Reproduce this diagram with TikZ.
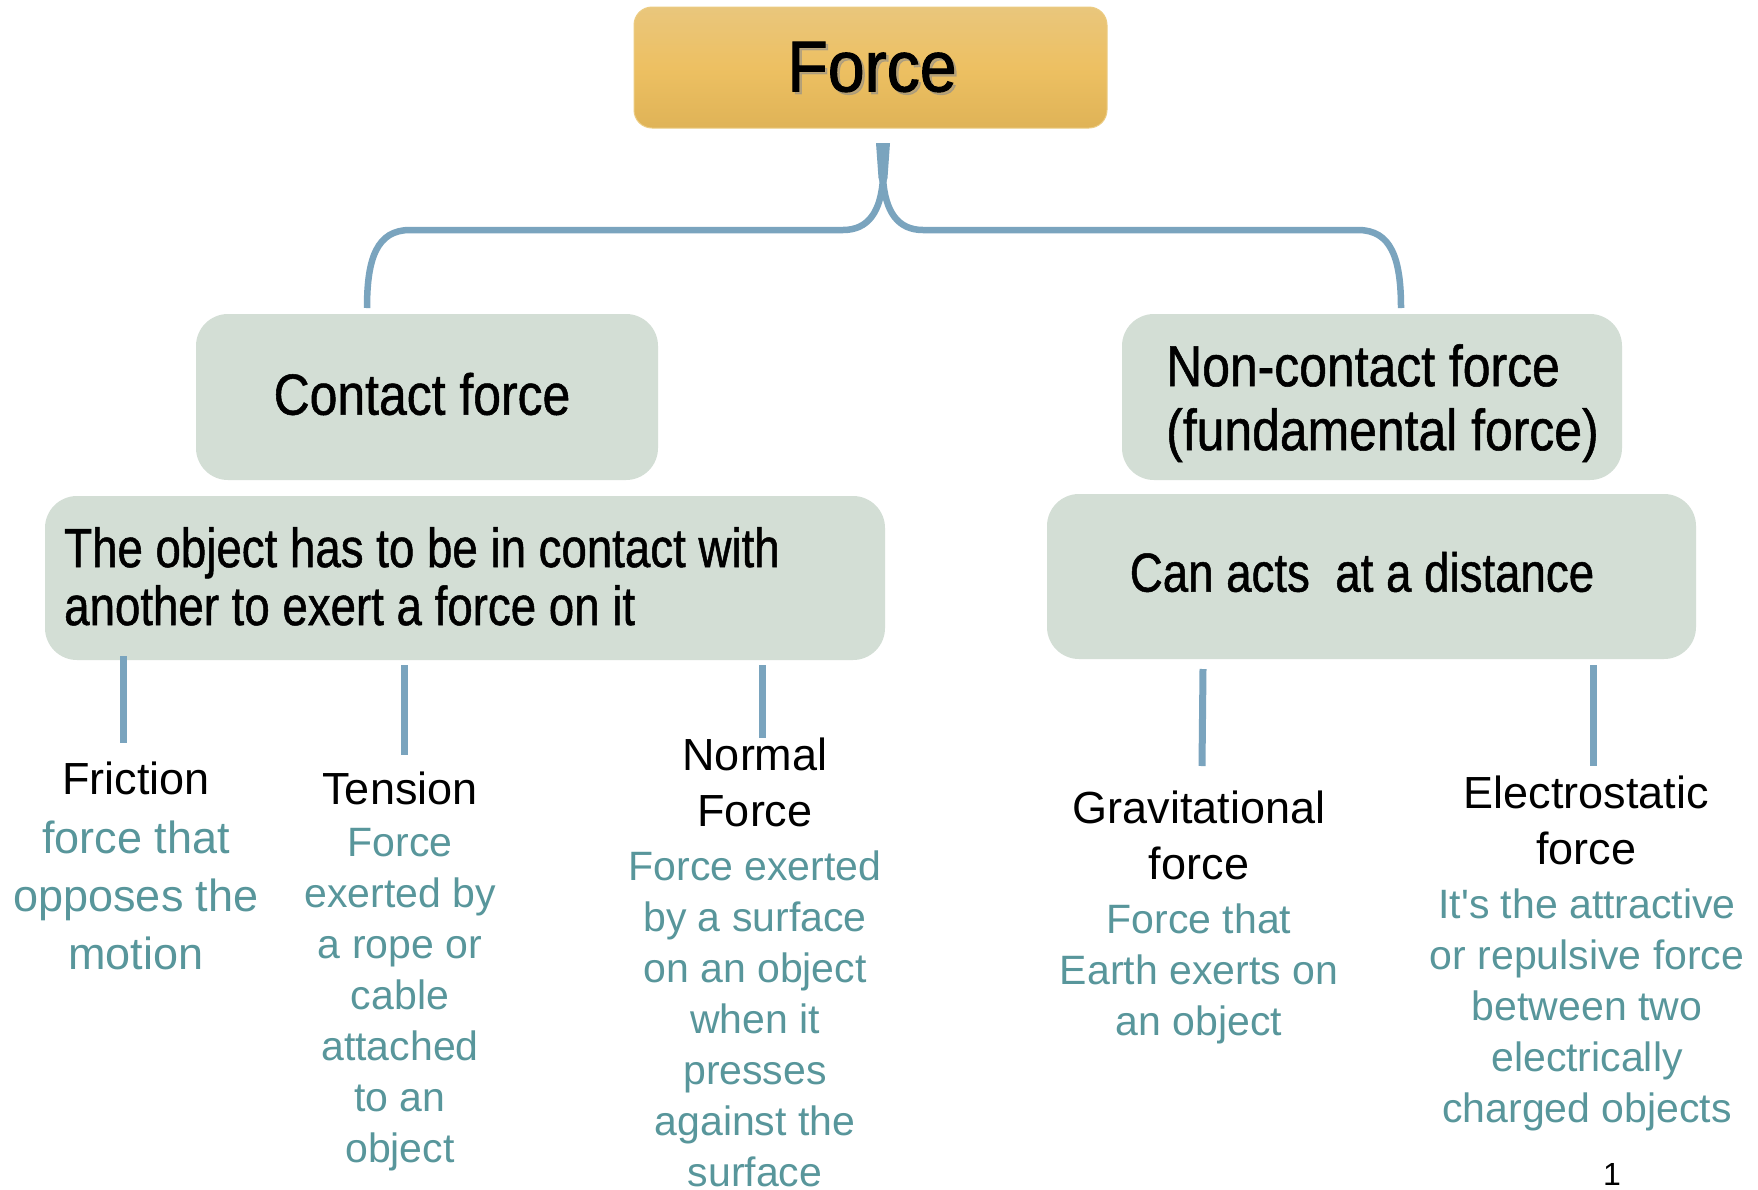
\documentclass[tikz,border=0pt]{standalone}
\usepackage{fontspec}
\setmainfont{Liberation Sans}
\newfontfamily\plainfont{Liberation Sans}
\newfontfamily\forcefont[FakeStretch=0.92,FakeBold=1.4]{Liberation Sans}
\newfontfamily\headfont[FakeStretch=0.86,FakeBold=0.9]{Liberation Sans}
\newfontfamily\descfont[FakeStretch=0.83,FakeBold=0.9]{Liberation Sans}
\definecolor{boxfill}{RGB}{211,222,213}
\definecolor{conncol}{RGB}{122,164,190}
\definecolor{tealtxt}{RGB}{88,150,155}
\definecolor{goldtop}{RGB}{233,198,124}
\definecolor{goldmid}{RGB}{237,192,98}
\definecolor{goldbot}{RGB}{223,179,87}
\definecolor{goldedge}{RGB}{236,204,130}
\tikzset{
  graybox/.style={fill=boxfill, draw=none, rounded corners=32pt, inner sep=0pt},
  conn/.style={draw=conncol, line width=7pt},
  leaftitle/.style={inner sep=0pt, align=center, text=black, font=\fontsize{45}{56}\selectfont},
  leafbody/.style={inner sep=0pt, align=center, text=tealtxt, font=\fontsize{41}{51}\selectfont},
}
\begin{document}
\begin{tikzpicture}[x=1pt,y=-1pt]
\useasboundingbox (0,0) rectangle (1758,1189);
\fill[white] (0,0) rectangle (1758,1189);

% top box
\node[top color=goldtop, bottom color=goldbot, middle color=goldmid, draw=goldedge, line width=1pt,
      rounded corners=18pt, minimum width=473pt, minimum height=121pt, inner sep=0pt] (force) at (870.5,67.5) {};
\node[inner sep=0pt, text=black!45, opacity=0.5, font=\forcefont\fontsize{72}{80}\selectfont] at (874.5,69.5) {Force};
\node[inner sep=0pt, font=\forcefont\fontsize{72}{80}\selectfont] (forcetext) at (872,67) {Force};

% brace
\coordinate (bTop) at (883,143);
\coordinate (bSplit) at (883,178);
\coordinate (bLeft) at (367,308);
\coordinate (bRight) at (1401,308);
\fill[conncol] (876,143) -- (890,143) -- (887.5,178) -- (883,192) -- (878.5,178) -- cycle;
\draw[conn, line width=6.5pt] (bSplit) .. controls (881,212) and (868,230) .. (843,230)
   -- (410,230) .. controls (377,230) and (367,258) .. (bLeft);
\draw[conn, line width=6.5pt] (bSplit) .. controls (885,212) and (898,230) .. (923,230)
   -- (1358,230) .. controls (1391,230) and (1401,258) .. (bRight);

% second level boxes
\node[graybox, minimum width=462pt, minimum height=166pt] (contact) at (427,397) {};
\node[inner sep=0pt, font=\headfont\fontsize{58}{64}\selectfont] (contacttext) at (422,394) {Contact force};
\node[graybox, minimum width=500pt, minimum height=166pt] (noncontact) at (1372,397) {};
\node[inner sep=0pt, anchor=north west, align=left, font=\headfont\fontsize{58}{64}\selectfont]
   (nctext) at (1166,344) {Non-contact force\\(fundamental force)};

% description boxes
\node[graybox, minimum width=840pt, minimum height=164pt] (descL) at (465,578) {};
\node[inner sep=0pt, anchor=north west, align=left, font=\descfont\fontsize{55}{58}\selectfont]
   (descLtext) at (64,527) {The object has to be in contact with\\another to exert a force on it};
\node[graybox, minimum width=649pt, minimum height=165pt] (descR) at (1371.5,576.5) {};
\node[inner sep=0pt, font=\descfont\fontsize{55}{58}\selectfont]
   (descRtext) at (1362,572) {Can acts\ \ at a distance};

% connectors to leaves
\coordinate (c1a) at (123,656);  \coordinate (c1b) at (123,743);
\coordinate (c2a) at (404,665);  \coordinate (c2b) at (404,755);
\coordinate (c3a) at (762,665);  \coordinate (c3b) at (762,738);
\coordinate (c4a) at (1203,669); \coordinate (c4b) at (1202,766);
\coordinate (c5a) at (1593,665); \coordinate (c5b) at (1593,766);
\draw[conn] (c1a) -- (c1b);
\draw[conn] (c2a) -- (c2b);
\draw[conn] (c3a) -- (c3b);
\draw[conn] (c4a) -- (c4b);
\draw[conn] (c5a) -- (c5b);

% leaves
\node[leaftitle, anchor=north] (fricT) at (136,762) {Friction};
\node[leafbody, anchor=north, font=\fontsize{45}{58}\selectfont] (fricB) at (136,821)
   {force that\\opposes the\\motion};

\node[leaftitle, anchor=north] (tensT) at (400,772) {Tension};
\node[leafbody, anchor=north] (tensB) at (400,828)
   {Force\\exerted by\\a rope or\\cable\\attached\\to an\\object};

\node[leaftitle, anchor=north] (normT) at (755,738) {Normal\\Force};
\node[leafbody, anchor=north] (normB) at (755,851)
   {Force exerted\\by a surface\\on an object\\when it\\presses\\against the\\surface};

\node[leaftitle, anchor=north] (gravT) at (1199,791) {Gravitational\\force};
\node[leafbody, anchor=north] (gravB) at (1199,904)
   {Force that\\Earth exerts on\\an object};

\node[leaftitle, anchor=north] (elecT) at (1586,776) {Electrostatic\\force};
\node[leafbody, anchor=north] (elecB) at (1587,889)
   {It{\plainfont'}s the attractive\\or repulsive force\\between two\\electrically\\charged objects};

% page number
\node[inner sep=0pt, anchor=north, font=\fontsize{32}{36}\selectfont] (pagenum) at (1612,1163) {1};
\end{tikzpicture}
\end{document}
